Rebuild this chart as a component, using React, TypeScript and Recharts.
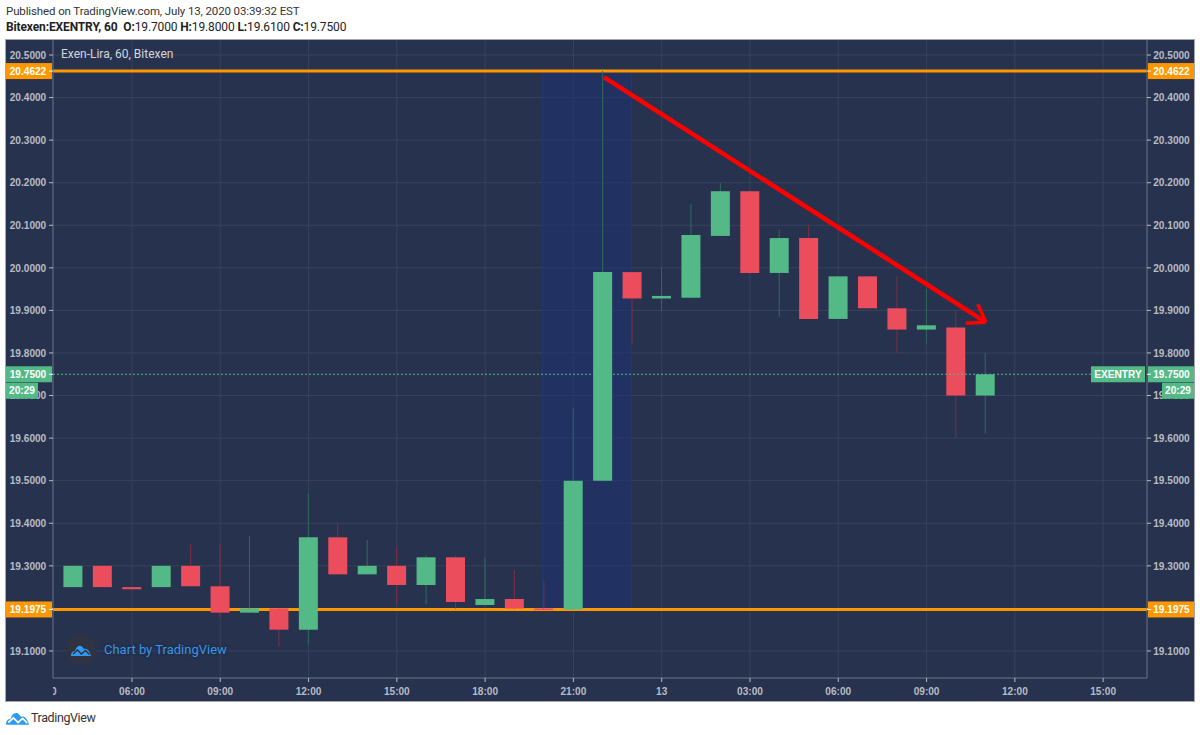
import { Bar, CartesianGrid, Cell, ComposedChart, ReferenceArea, ReferenceLine, XAxis, YAxis } from "recharts";

// hours counted from 00:00 on Jul 12
const hours = [4, 5, 6, 7, 8, 9, 10, 11, 12, 13, 14, 15, 16, 17, 18, 19, 20, 21, 22, 23, 24, 25, 26, 27, 28, 29, 30, 31, 32, 33, 34, 35];
const opens = [19.25, 19.3, 19.25, 19.25, 19.3, 19.252, 19.19, 19.2, 19.15, 19.367, 19.28, 19.3, 19.255, 19.32, 19.208, 19.222, 19.2, 19.1975, 19.5, 19.99, 19.928, 19.93, 20.075, 20.18, 19.988, 20.07, 19.88, 19.98, 19.905, 19.855, 19.86, 19.7];
const closes = [19.3, 19.25, 19.245, 19.3, 19.252, 19.19, 19.2, 19.15, 19.367, 19.28, 19.3, 19.255, 19.32, 19.215, 19.222, 19.2, 19.196, 19.5, 19.99, 19.928, 19.934, 20.077, 20.18, 19.988, 20.07, 19.88, 19.98, 19.905, 19.855, 19.865, 19.7, 19.75];
const highs = [19.3, 19.3, 19.25, 19.3, 19.35, 19.35, 19.37, 19.2, 19.47, 19.4, 19.36, 19.345, 19.325, 19.325, 19.32, 19.29, 19.265, 19.67, 20.4622, 19.99, 20.0, 20.15, 20.2, 20.18, 20.09, 20.1, 19.98, 19.98, 19.98, 19.95, 19.9, 19.8];
const lows = [19.25, 19.25, 19.245, 19.25, 19.252, 19.18, 19.19, 19.11, 19.115, 19.28, 19.28, 19.21, 19.21, 19.2, 19.208, 19.2, 19.196, 19.1975, 19.5, 19.82, 19.9, 19.93, 20.075, 19.988, 19.885, 19.88, 19.88, 19.905, 19.8, 19.82, 19.6, 19.61];

const priceTicks = [20.5, 20.4, 20.3, 20.2, 20.1, 20.0, 19.9, 19.8, 19.7, 19.6, 19.5, 19.4, 19.3, 19.2, 19.1];
const resistance = 20.4622;
const support = 19.1975;
const lastPrice = 19.75;
const timeTicks = [3, 6, 9, 12, 15, 18, 21, 24, 27, 30, 33, 36, 39];
const timeLabels = ["03:00", "06:00", "09:00", "12:00", "15:00", "18:00", "21:00", "13", "03:00", "06:00", "09:00", "12:00", "15:00"];
const arrowStart = { x: 22.04, y: 20.448 };
const arrowTip = { x: 35.02, y: 19.872 };
const arrowBarbA = { x: 34.74, y: 19.9146 };
const arrowBarbB = { x: 34.33, y: 19.87 };

const GREEN = "#53b987";
const RED = "#eb4d5c";
const ORANGE = "#ff9800";
const BG = "#27324e";
const TICK = "#b9bcc4";

const candles = hours.map((h, i) => ({
  h,
  wick: [lows[i], highs[i]],
  body: [Math.min(opens[i], closes[i]), Math.max(opens[i], closes[i])],
  up: closes[i] >= opens[i],
}));

function PriceTick({ x, y, payload, side }: any) {
  const v = payload.value;
  const left = side === "left";
  const cx = left ? 22 : x + 24.5;
  const boxX = left ? 0 : x + 1;
  const tickX = left ? x - 4 : x;
  const fill = v === lastPrice ? GREEN : v === resistance || v === support ? ORANGE : null;
  return (
    <g fontFamily="Liberation Sans" fontSize={10.1} fontWeight={700}>
      {fill && <rect x={boxX} y={y - 8} width={46} height={16} fill={fill} />}
      <line x1={tickX} x2={tickX + 4} y1={y} y2={y} stroke={fill ? "#fff" : TICK} />
      <text x={cx} y={y + 3.7} textAnchor="middle" fill={fill ? "#fff" : TICK}>{v.toFixed(4)}</text>
      {v === lastPrice && (
        <>
          <rect x={left ? 0 : x + 15} y={y + 8.5} width={32} height={16} fill={GREEN} />
          <text x={left ? 16 : x + 31} y={y + 20.2} textAnchor="middle" fill="#fff">20:29</text>
          {!left && <rect x={x - 56} y={y - 8} width={54} height={16} fill={GREEN} />}
          {!left && <text x={x - 29} y={y + 3.7} textAnchor="middle" fill="#fff">EXENTRY</text>}
        </>
      )}
    </g>
  );
}

function TimeTick({ x, y, payload }: any) {
  const i = timeTicks.indexOf(payload.value);
  return (
    <g clipPath="url(#timeClip)" fontFamily="Liberation Sans" fontSize={10.1} fontWeight={700}>
      <line x1={x} x2={x} y1={y} y2={y + 4} stroke={TICK} />
      <text x={x} y={y + 16.5} textAnchor="middle" fill={TICK}>{timeLabels[i]}</text>
    </g>
  );
}

function Logo({ size, color, line }: { size: number; color: string; line: string }) {
  return (
    <svg width={size} height={size * 0.6} viewBox="0 0 40 24" style={{ display: "block" }}>
      <path d="M0 24 C0 17 3 14 8 14 C10 6 15 2 20 4 C23 5 24 8 26 10 C31 8 37 12 40 24 Z" fill={color} />
      <path d="M4 20 L13 12 L21 20 L29 13 L37 21" fill="none" stroke={line} strokeWidth={3} />
    </svg>
  );
}

export default function App() {
  return (
    <div style={{ position: "absolute", left: 0, top: 0, width: 1200, height: 735, background: "#fff", overflow: "hidden", fontFamily: "Roboto" }}>
      <div style={{ position: "absolute", left: 6, top: 4, fontSize: 11.5, letterSpacing: -0.12, color: "#333", whiteSpace: "nowrap" }}>
        Published on TradingView.com, July 13, 2020 03:39:32 EST
      </div>
      <div style={{ position: "absolute", left: 6, top: 20, fontSize: 12, letterSpacing: -0.13, color: "#222", whiteSpace: "nowrap" }}>
        <b>Bitexen:EXENTRY, 60</b>&nbsp; <b>O:</b>19.7000 <b>H:</b>19.8000 <b>L:</b>19.6100 <b>C:</b>19.7500
      </div>
      <div style={{ position: "absolute", left: 6, top: 40, width: 1188, height: 661, background: BG, outline: "1px solid #a3a6ad" }}>
        <ComposedChart width={1188} height={661} data={candles} margin={{ top: 0, right: 0, bottom: 0, left: 0 }}>
          <defs>
            <clipPath id="timeClip">
              <rect x={47} y={630} width={1094} height={31} />
            </clipPath>
          </defs>
          <CartesianGrid
            stroke="#39425a"
            horizontalValues={priceTicks}
            verticalValues={timeTicks.slice(1)}
            xAxisId="time"
            yAxisId="left"
          />
          <XAxis
            xAxisId="time"
            dataKey="h"
            type="number"
            domain={[3.316, 40.49]}
            allowDataOverflow
            ticks={timeTicks}
            interval={0}
            height={23}
            stroke="#6d7484"
            tickLine={false}
            tickSize={0}
            tickMargin={0}
            tick={<TimeTick />}
          />
          <XAxis xAxisId="wick" dataKey="h" type="number" domain={[3.316, 40.49]} allowDataOverflow hide />
          <YAxis
            yAxisId="left"
            orientation="left"
            width={47}
            type="number"
            domain={[19.0365, 20.5352]}
            allowDataOverflow
            ticks={[...priceTicks, resistance, support, lastPrice]}
            interval={0}
            stroke="#6d7484"
            tickLine={false}
            tickSize={0}
            tickMargin={0}
            tick={<PriceTick side="left" />}
          />
          <YAxis
            yAxisId="right"
            orientation="right"
            width={47}
            type="number"
            domain={[19.0365, 20.5352]}
            allowDataOverflow
            ticks={[...priceTicks, resistance, support, lastPrice]}
            interval={0}
            stroke="#6d7484"
            tickLine={false}
            tickSize={0}
            tickMargin={0}
            tick={<PriceTick side="right" />}
          />
          <ReferenceArea xAxisId="time" yAxisId="left" x1={19.96} x2={22.97} y1={support} y2={resistance} fill="#1e3270" fillOpacity={0.6} stroke="#1e3a78" />
          <ReferenceLine xAxisId="time" yAxisId="left" stroke={GREEN} strokeDasharray="2 2" segment={[{ x: 3.316, y: lastPrice }, { x: 38.6, y: lastPrice }]} />
          <ReferenceLine xAxisId="time" yAxisId="left" y={resistance} stroke={ORANGE} strokeWidth={3} zIndex={200} />
          <ReferenceLine xAxisId="time" yAxisId="left" y={support} stroke={ORANGE} strokeWidth={3} zIndex={200} />
          <Bar xAxisId="wick" yAxisId="left" dataKey="wick" barSize={1} isAnimationActive={false}>
            {candles.map((c, i) => <Cell key={i} fill={c.up ? "#2f6b5c" : "#7d2f44"} />)}
          </Bar>
          <Bar xAxisId="time" yAxisId="left" dataKey="body" barSize={19} isAnimationActive={false}>
            {candles.map((c, i) => <Cell key={i} fill={c.up ? GREEN : RED} />)}
          </Bar>
          <ReferenceLine xAxisId="time" yAxisId="left" segment={[arrowStart, arrowTip]} stroke="#ff0000" strokeWidth={4.5} />
          <ReferenceLine xAxisId="time" yAxisId="left" segment={[arrowBarbA, arrowTip]} stroke="#ff0000" strokeWidth={3.5} />
          <ReferenceLine xAxisId="time" yAxisId="left" segment={[arrowBarbB, arrowTip]} stroke="#ff0000" strokeWidth={3.5} />
        </ComposedChart>
      </div>
      <div style={{ position: "absolute", left: 61, top: 47, fontSize: 12, color: "#d5d7dc" }}>Exen-Lira, 60, Bitexen</div>
      <div style={{ position: "absolute", left: 66, top: 635, width: 30, height: 30, borderRadius: 15, background: "#2f3342", display: "flex", alignItems: "center", justifyContent: "center" }}>
        <Logo size={20} color="#2e9bf0" line="#2f3342" />
      </div>
      <div style={{ position: "absolute", left: 104, top: 642, fontSize: 13, color: "#3a97e6", textShadow: "0 0 3px #16203a" }}>Chart by TradingView</div>
      <div style={{ position: "absolute", left: 6, top: 711 }}>
        <Logo size={23} color="#2e9bf0" line="#fff" />
      </div>
      <div style={{ position: "absolute", left: 31, top: 710, fontSize: 12.5, letterSpacing: -0.4, color: "#333" }}>TradingView</div>
    </div>
  );
}
